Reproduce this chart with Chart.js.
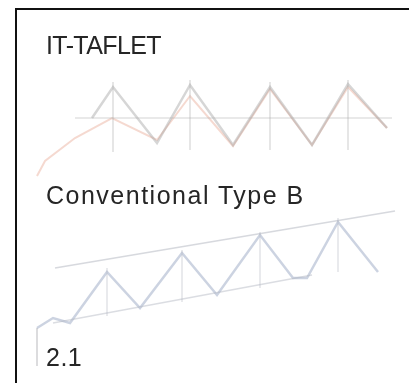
<!DOCTYPE html>
<html lang="en">
<head>
<meta charset="UTF-8">
<title>IT-TAFLET vs Conventional Type B</title>
<style>
    html, body { margin: 0; padding: 0; background: #fff; }
    #wrap { position: relative; width: 409px; height: 383px; overflow: hidden; }
    #frame { position: absolute; left: 15px; top: 8px; right: -5px; bottom: -5px;
             border-left: 2px solid #111; border-top: 2px solid #111; }
    canvas { position: absolute; left: 0; top: 0; }
    .lbl { position: absolute; left: 46px; font-family: "Liberation Sans", Arial, sans-serif;
           font-size: 25px; color: #262626; white-space: nowrap; line-height: 1; }
</style>
<script src="https://cdn.jsdelivr.net/npm/chart.js"></script>
</head>
<body>
<div id="wrap">
    <div id="frame"></div>
    <canvas id="c" width="409" height="383"></canvas>
    <div class="lbl" style="top:33px; letter-spacing:-0.6px;">IT-TAFLET</div>
    <div class="lbl" style="top:183px; letter-spacing:1.5px;">Conventional Type B</div>
    <div class="lbl" style="top:345px; letter-spacing:0.5px;">2.1</div>
</div>
<script>
// upper sketch (IT-TAFLET)
const taflGreyX = [92, 113, 157, 190, 233, 270, 312, 348, 387];
const taflGreyY = [118, 87, 143, 85, 145, 87, 145, 84, 128];
const taflPinkX = [37, 45, 75, 112, 157, 190, 233, 270, 312, 348, 387];
const taflPinkY = [176, 161, 138, 118, 140, 96, 146, 89, 145, 87, 128];
const taflChordX = [75, 392];
const taflChordY = [118, 118];
const taflPostX = [113, 190, 270, 348];
const taflPostTop = [82, 80, 82, 80];
const taflPostBot = [152, 150, 150, 150];

// lower sketch (Conventional Type B)
const convZigX = [37, 53, 70, 107, 140, 182, 217, 260, 293, 307, 338, 378];
const convZigY = [328, 318, 323, 272, 308, 253, 295, 235, 278, 278, 222, 272];
const convTopX = [55, 395];
const convTopY = [268, 211];
const convBotX = [53, 312];
const convBotY = [323, 275];
const convBracketX = [37, 37];
const convBracketY = [328, 366];
const convPostX = [107, 182, 260, 338];
const convPostTop = [268, 250, 232, 218];
const convPostBot = [316, 302, 288, 272];

function pts(xs, ys) {
    return xs.map((x, i) => ({ x: x, y: ys[i] }));
}

function line(xs, ys, color, width) {
    return { data: pts(xs, ys), showLine: true, borderColor: color, borderWidth: width,
             pointRadius: 0, tension: 0, fill: false };
}

const datasets = [];
datasets.push(line(taflChordX, taflChordY, 'rgba(170,170,170,0.35)', 1.5));
taflPostX.forEach((x, i) => {
    datasets.push(line([x, x], [taflPostTop[i], taflPostBot[i]], 'rgba(170,170,170,0.4)', 1.5));
});
datasets.push(line(taflGreyX, taflGreyY, 'rgba(165,165,165,0.45)', 2.5));
datasets.push(line(taflPinkX, taflPinkY, 'rgba(232,170,150,0.45)', 2));

datasets.push(line(convTopX, convTopY, 'rgba(175,180,190,0.5)', 1.5));
datasets.push(line(convBotX, convBotY, 'rgba(175,180,190,0.45)', 1.5));
datasets.push(line(convBracketX, convBracketY, 'rgba(170,170,175,0.55)', 1.5));
convPostX.forEach((x, i) => {
    datasets.push(line([x, x], [convPostTop[i], convPostBot[i]], 'rgba(180,185,195,0.4)', 1.5));
});
datasets.push(line(convZigX, convZigY, 'rgba(170,182,205,0.6)', 2.5));

new Chart(document.getElementById('c'), {
    type: 'scatter',
    data: { datasets: datasets },
    options: {
        responsive: false,
        animation: false,
        layout: { padding: 0 },
        plugins: { legend: { display: false }, tooltip: { enabled: false } },
        scales: {
            x: { type: 'linear', display: false, min: 0, max: 409 },
            y: { type: 'linear', display: false, min: 0, max: 383, reverse: true }
        }
    }
});
</script>
</body>
</html>
